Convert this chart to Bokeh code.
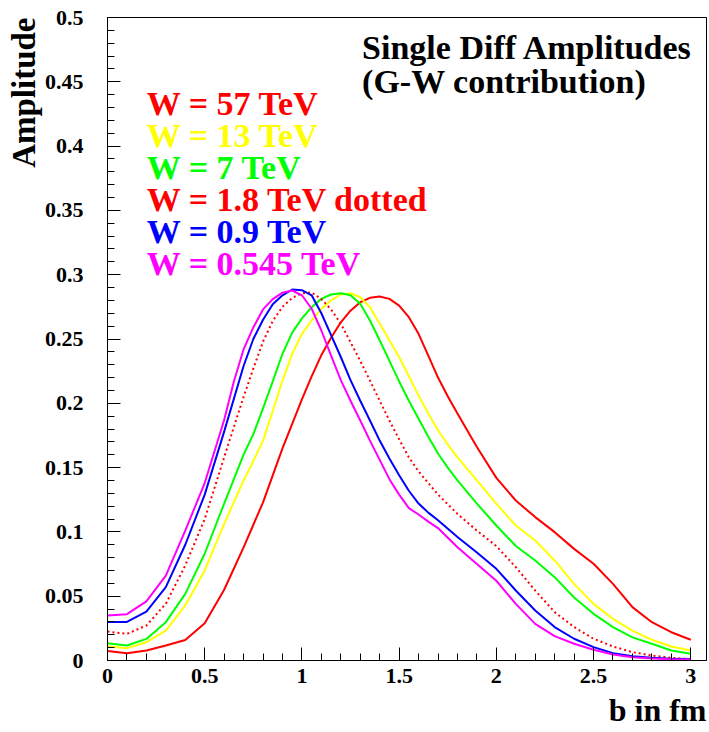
from bokeh.plotting import figure
from bokeh.models import Range1d, FixedTicker, Label, Title
from bokeh.embed import file_html
from bokeh.resources import INLINE

# ---------------- data ----------------
b_57 = [0.0, 0.1, 0.2, 0.3, 0.4, 0.5, 0.6, 0.7, 0.8, 0.9, 1.0, 1.05, 1.1, 1.15, 1.2, 1.25, 1.3, 1.35,
        1.4, 1.45, 1.5, 1.55, 1.6, 1.65, 1.7, 1.75, 1.8, 1.9, 2.0, 2.1, 2.2, 2.3, 2.4, 2.5, 2.6, 2.7,
        2.8, 2.9, 3.0]
amp_57 = [0.0073, 0.0057, 0.0078, 0.0117, 0.0160, 0.0290, 0.0550, 0.0880, 0.123, 0.165, 0.2030, 0.221,
          0.2375, 0.2510, 0.263, 0.272, 0.2786, 0.282, 0.283, 0.2812, 0.276, 0.267, 0.254, 0.237,
          0.220, 0.2055, 0.192, 0.166, 0.142, 0.1244, 0.1115, 0.0998, 0.0868, 0.0752, 0.0596, 0.0415,
          0.0298, 0.022, 0.0161]

b_13 = [0.0, 0.1, 0.2, 0.3, 0.4, 0.5, 0.6, 0.7, 0.75, 0.8, 0.85, 0.9, 0.95, 1.0, 1.05, 1.1, 1.15, 1.2,
        1.25, 1.3, 1.35, 1.4, 1.45, 1.5, 1.55, 1.6, 1.65, 1.7, 1.75, 1.8, 1.9, 2.0, 2.1, 2.2, 2.3, 2.4,
        2.5, 2.6, 2.7, 2.8, 2.9, 3.0]
amp_13 = [0.0111, 0.0096, 0.0142, 0.0233, 0.0428, 0.070, 0.1063, 0.140, 0.155, 0.1710, 0.194, 0.2177,
          0.2385, 0.254, 0.2644, 0.2735, 0.280, 0.2846, 0.2856, 0.2825, 0.2747, 0.262, 0.249, 0.236,
          0.221, 0.206, 0.192, 0.179, 0.168, 0.158, 0.140, 0.1220, 0.105, 0.0933, 0.0778, 0.0596,
          0.044, 0.0324, 0.0233, 0.0161, 0.0109, 0.0078]

b_7 = [0.0, 0.1, 0.2, 0.3, 0.4, 0.5, 0.6, 0.7, 0.75, 0.8, 0.85, 0.9, 0.95, 1.0, 1.05, 1.1, 1.15, 1.2,
       1.25, 1.3, 1.35, 1.4, 1.45, 1.5, 1.55, 1.6, 1.65, 1.7, 1.75, 1.8, 1.9, 2.0, 2.1, 2.2, 2.3, 2.4,
       2.5, 2.6, 2.7, 2.8, 2.9, 3.0]
amp_7 = [0.0135, 0.0117, 0.0168, 0.0298, 0.0518, 0.083, 0.122, 0.160, 0.176, 0.196, 0.217, 0.2385,
         0.255, 0.266, 0.2747, 0.2812, 0.2846, 0.2856, 0.284, 0.2774, 0.2644, 0.249, 0.233, 0.217,
         0.202, 0.188, 0.174, 0.161, 0.150, 0.140, 0.122, 0.105, 0.089, 0.0778, 0.0648, 0.049,
         0.0363, 0.026, 0.018, 0.013, 0.0078, 0.0052]

b_18 = [0.0, 0.1, 0.2, 0.3, 0.4, 0.5, 0.6, 0.7, 0.75, 0.8, 0.85, 0.9, 0.95, 1.0, 1.05, 1.1, 1.15, 1.2,
        1.25, 1.3, 1.35, 1.4, 1.45, 1.5, 1.55, 1.6, 1.7, 1.8, 1.9, 2.0, 2.1, 2.2, 2.3, 2.4, 2.5, 2.6,
        2.7, 2.8, 2.9, 3.0]
amp_18 = [0.0225, 0.0207, 0.0272, 0.0441, 0.0740, 0.110, 0.1580, 0.205, 0.227, 0.248, 0.264, 0.275,
          0.2820, 0.2855, 0.2862, 0.281, 0.273, 0.262, 0.2475, 0.233, 0.2177, 0.202, 0.1866, 0.172,
          0.158, 0.147, 0.129, 0.114, 0.101, 0.089, 0.0726, 0.0544, 0.0376, 0.026, 0.0169, 0.0109,
          0.0065, 0.0039, 0.0021, 0.001]

b_09 = [0.0, 0.1, 0.2, 0.3, 0.4, 0.5, 0.6, 0.7, 0.75, 0.8, 0.85, 0.9, 0.95, 1.0, 1.05, 1.1, 1.15, 1.2,
        1.25, 1.3, 1.35, 1.4, 1.45, 1.5, 1.55, 1.6, 1.65, 1.7, 1.8, 1.9, 2.0, 2.1, 2.2, 2.3, 2.4, 2.5,
        2.6, 2.7, 2.8, 2.9, 3.0]
amp_09 = [0.030, 0.030, 0.038, 0.057, 0.090, 0.129, 0.178, 0.229, 0.250, 0.265, 0.277, 0.284, 0.2885,
          0.288, 0.284, 0.2700, 0.2530, 0.236, 0.2180, 0.202, 0.1866, 0.171, 0.157, 0.144, 0.132,
          0.122, 0.115, 0.109, 0.096, 0.084, 0.0713, 0.0544, 0.0389, 0.026, 0.0169, 0.0104, 0.0057,
          0.0034, 0.0021, 0.0013, 0.001]

b_0545 = [0.0, 0.1, 0.2, 0.3, 0.4, 0.5, 0.6, 0.65, 0.7, 0.75, 0.8, 0.85, 0.9, 0.95, 1.0, 1.05, 1.1, 1.15,
          1.2, 1.25, 1.3, 1.35, 1.4, 1.45, 1.5, 1.55, 1.6, 1.65, 1.7, 1.8, 1.9, 2.0, 2.1, 2.2, 2.3, 2.4,
          2.5, 2.6, 2.7, 2.8, 2.9, 3.0]
amp_0545 = [0.035, 0.036, 0.046, 0.066, 0.101, 0.138, 0.187, 0.217, 0.242, 0.259, 0.273, 0.281, 0.286,
            0.2877, 0.284, 0.2735, 0.2566, 0.237, 0.2180, 0.202, 0.1866, 0.171, 0.156, 0.141, 0.129,
            0.1185, 0.1135, 0.108, 0.103, 0.088, 0.075, 0.062, 0.044, 0.0285, 0.019, 0.013, 0.0083,
            0.0047, 0.0026, 0.0016, 0.001, 0.0008]

legend_labels = ["W = 57 TeV", "W = 13 TeV", "W = 7 TeV", "W = 1.8 TeV dotted", "W = 0.9 TeV",
                 "W = 0.545 TeV"]
x_tick_vals = [0, 0.5, 1, 1.5, 2, 2.5, 3]
x_tick_text = ["0", "0.5", "1", "1.5", "2", "2.5", "3"]
y_tick_vals = [0, 0.05, 0.1, 0.15, 0.2, 0.25, 0.3, 0.35, 0.4, 0.45, 0.5]
y_tick_text = ["0", "0.05", "0.1", "0.15", "0.2", "0.25", "0.3", "0.35", "0.4", "0.45", "0.5"]

# ---------------- figure ----------------
FONT = "Liberation Serif"
p = figure(width=709, height=732, output_backend="svg", toolbar_location=None,
           x_range=Range1d(0, 3.081), y_range=Range1d(0, 0.5),
           min_border_left=107, min_border_right=3, min_border_top=17, min_border_bottom=72)
p.xgrid.visible = False
p.ygrid.visible = False
p.outline_line_color = "black"
p.outline_line_width = 1
p.background_fill_color = "white"
p.border_fill_color = "white"

series = [
    (b_57, amp_57, "#ff0000", "solid"),
    (b_13, amp_13, "#ffff00", "solid"),
    (b_7, amp_7, "#00ff00", "solid"),
    (b_18, amp_18, "#ff0000", "2 3"),
    (b_09, amp_09, "#0000ff", "solid"),
    (b_0545, amp_0545, "#ff00ff", "solid"),
]
for xs, ys, col, dash in series:
    p.line(xs, ys, line_color=col, line_width=2, line_dash=dash, line_join="round")

# axes
minor_x = [i / 10 for i in range(0, 31)]
minor_y = [i / 100 for i in range(0, 51)]
p.xaxis.ticker = FixedTicker(ticks=x_tick_vals, minor_ticks=minor_x)
p.yaxis.ticker = FixedTicker(ticks=y_tick_vals, minor_ticks=minor_y)
p.xaxis.major_label_overrides = dict(zip(x_tick_vals, x_tick_text))
p.yaxis.major_label_overrides = dict(zip(y_tick_vals, y_tick_text))
for ax in (p.xaxis, p.yaxis):
    ax.major_tick_in = 13
    ax.major_tick_out = 0
    ax.minor_tick_in = 7
    ax.minor_tick_out = 0
    ax.axis_line_color = "black"
    ax.major_tick_line_color = "black"
    ax.minor_tick_line_color = "black"
    ax.major_label_text_font = FONT
    ax.major_label_text_font_style = "bold"
    ax.major_label_text_font_size = "22px"
    ax.major_label_text_color = "black"
p.yaxis.major_label_standoff = 24
p.xaxis.major_label_standoff = 8

# axis titles as side titles (right-aligned like the reference)
p.add_layout(Title(text="Amplitude", align="right", text_font=FONT, text_font_style="bold",
                   text_font_size="33px", text_color="black", standoff=0), "left")
p.add_layout(Title(text="b in fm", align="right", text_font=FONT, text_font_style="bold",
                   text_font_size="32px", text_color="black", standoff=8), "below")

# texts inside the frame
def px_to_x(px):
    return (px - 107.7) / 194.2

def py_to_y(py):
    return (660 - py) / 1286.0

title_lines = ["Single Diff Amplitudes", "(G-W contribution)"]
for i, t in enumerate(title_lines):
    p.add_layout(Label(x=px_to_x(362), y=py_to_y(47 + 34 * i), text=t,
                       text_align="left", text_baseline="alphabetic", text_font=FONT,
                       text_font_style="bold", text_font_size="34px", text_color="black"))

legend_colors = ["#ff0000", "#ffff00", "#00ff00", "#ff0000", "#0000ff", "#ff00ff"]
for i, (t, c) in enumerate(zip(legend_labels, legend_colors)):
    p.add_layout(Label(x=px_to_x(147), y=py_to_y(103 + 32 * i), text=t,
                       text_align="left", text_baseline="alphabetic", text_font=FONT,
                       text_font_style="bold", text_font_size="34px", text_color=c))

open("out.html", "w").write(file_html(p, INLINE))
